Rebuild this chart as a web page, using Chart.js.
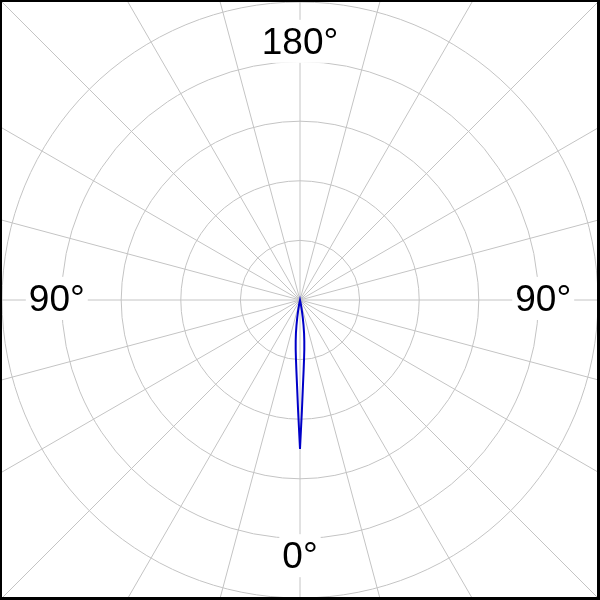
<!DOCTYPE html>
<html>
<head>
<meta charset="utf-8">
<script src="https://cdn.jsdelivr.net/npm/chart.js@4.4.1/dist/chart.umd.min.js"></script>
<style>
    html, body { margin: 0; padding: 0; background: #fff; }
    #frame { position: relative; width: 600px; height: 600px; }
    #polarChart { position: absolute; left: 2px; top: 2px; display: block; }
    #border {
        position: absolute; left: 0; top: 0; width: 600px; height: 600px;
        box-sizing: border-box; pointer-events: none;
        border-style: solid; border-color: #000;
        border-width: 2px 3px 3px 2px;
    }
</style>
</head>
<body>
<div id="frame">
    <canvas id="polarChart" width="596" height="596"></canvas>
    <div id="border"></div>
</div>
<script>
// ===== 数据 =====
// 主瓣：偏离 0° 的角度（度）和对应的幅值（每圈 = 1）
const beamAngles = [-12, -11, -10, -9, -8, -7, -6, -5, -4, -3, -2, -1, 0, 1, 2, 3, 4, 5, 6, 7, 8, 9, 10, 11, 12];
const beamValues = [0.04, 0.09, 0.18, 0.29, 0.42, 0.56, 0.69, 0.83, 0.98, 1.17, 1.43, 1.85, 2.5,
                    1.85, 1.43, 1.17, 0.98, 0.83, 0.69, 0.56, 0.42, 0.29, 0.18, 0.09, 0.04];

// 刻度：圆环 0..5，每 15° 一条辐射线
const ringMax = 5;
const ringStep = 1;
const spokeStep = 15;

// 角度标注
const labelAngles = [0, 90, 180, 270];
const labelTexts = ['0°', '90°', '180°', '90°'];

const gridColor = '#c4c4c4';
const lineColor = '#0000c8';

// 每 1° 一个点，其余方向为 0
const degrees = Array.from({ length: 360 }, (_, i) => i);
const pattern = degrees.map(() => 0);
beamAngles.forEach((a, k) => {
    pattern[(a + 360) % 360] = beamValues[k];
});

// 辐射线延伸到边框、角度标注（带白底）
const polarDecor = {
    id: 'polarDecor',
    beforeDatasetsDraw(chart) {
        const r = chart.scales.r;
        const ctx = chart.ctx;
        ctx.save();

        ctx.strokeStyle = gridColor;
        ctx.lineWidth = 1;
        for (let i = 0; i < 360; i += spokeStep) {
            const a = r.getPointPositionForValue(i, r.max);
            const b = r.getPointPositionForValue(i, r.max * 1.6);
            ctx.beginPath();
            ctx.moveTo(a.x, a.y);
            ctx.lineTo(b.x, b.y);
            ctx.stroke();
        }

        ctx.font = '37px "Liberation Sans", Arial, sans-serif';
        ctx.textAlign = 'center';
        ctx.textBaseline = 'middle';
        labelAngles.forEach((ang, k) => {
            const text = labelTexts[k];
            const w = ctx.measureText(text).width;
            const edge = r.getPointPositionForValue(ang, 4.55);
            const theta = r.getIndexAngle(ang) - Math.PI / 2;
            const cx = edge.x - Math.cos(theta) * w / 2;
            const cy = edge.y - Math.sin(theta) * 14;
            ctx.fillStyle = '#fff';
            ctx.fillRect(cx - w / 2 - 3, cy - 23, w + 6, 43);
            ctx.fillStyle = '#000';
            ctx.fillText(text, cx, cy + 1);
        });
        ctx.restore();
    }
};

new Chart(document.getElementById('polarChart'), {
    type: 'radar',
    data: {
        labels: degrees,
        datasets: [{
            data: pattern,
            borderColor: lineColor,
            borderWidth: 2,
            backgroundColor: 'transparent',
            fill: false,
            pointRadius: 0,
            pointHoverRadius: 0,
            tension: 0
        }]
    },
    options: {
        responsive: false,
        animation: false,
        layout: { padding: 0 },
        plugins: {
            legend: { display: false },
            tooltip: { enabled: false }
        },
        scales: {
            r: {
                min: 0,
                max: ringMax,
                startAngle: 180,
                ticks: { display: false, stepSize: ringStep },
                grid: { circular: true, color: gridColor, lineWidth: 1 },
                angleLines: {
                    display: true,
                    color: gridColor,
                    lineWidth: ctx => (ctx.index % spokeStep === 0 ? 1 : 0)
                },
                pointLabels: { display: false }
            }
        }
    },
    plugins: [polarDecor]
});
</script>
</body>
</html>
